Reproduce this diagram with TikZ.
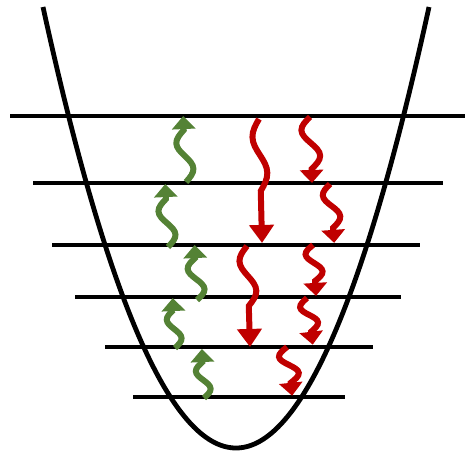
\documentclass[tikz,border=0pt]{standalone}
\usetikzlibrary{arrows.meta}
\definecolor{upgreen}{RGB}{84,130,53}
\definecolor{downred}{RGB}{192,0,0}
\tikzset{
  level/.style={line width=4.3pt},
  well/.style={line width=4.8pt},
  shorttip/.style={line width=6pt, -{Triangle[width=23pt,length=13pt]}},
  longtip/.style={line width=6pt, -{Triangle[width=24pt,length=18pt]}},
  gup/.style={shorttip, draw=upgreen},
  rdown/.style={shorttip, draw=downred},
  rlong/.style={longtip, draw=downred},
  pics/wave/.style n args={4}{code={
    \draw[#4] (0,0)
      .. controls +(0.525*#2,-0.334*#1) and +(0,0.36*#1) .. ++(#2,-#1)
      .. controls +(0,-0.36*#1) and +(0.525*#2,0.334*#1) .. ++(-#2,-#1)
      .. controls +(-0.525*#2,-0.334*#1) and +(0,0.36*#1) .. ++(-#2,-#1)
      .. controls +(0,-0.36*#1) and +(-0.525*#2,0.334*#1) .. ++(#2,-#1)
      -- ++(0,-#3);
  }}
}
\begin{document}
\begin{tikzpicture}[x=1pt,y=-1pt]
\useasboundingbox (0,0) rectangle (465,454);
% energy levels
\coordinate (l1a) at (10,116);  \coordinate (l1b) at (465,116);
\coordinate (l2a) at (33,183);  \coordinate (l2b) at (443,183);
\coordinate (l3a) at (52,245);  \coordinate (l3b) at (420,245);
\coordinate (l4a) at (75,297);  \coordinate (l4b) at (401,297);
\coordinate (l5a) at (105,347); \coordinate (l5b) at (373,347);
\coordinate (l6a) at (133,397); \coordinate (l6b) at (345,397);
\foreach \i in {1,...,6} \draw[level] (l\i a) -- (l\i b);
% potential well
\coordinate (wl) at (43,7);
\coordinate (wr) at (429,7);
\draw[well] (wl) .. controls (171.7,595) and (300.3,595) .. (wr);
% green (up) arrows
\coordinate (g1) at (186,182);
\coordinate (g2) at (168,247);
\coordinate (g3) at (197,300);
\coordinate (g4) at (175,348);
\coordinate (g5) at (204,398);
\pic[rotate=2.5] at (g1) {wave={13}{8}{14}{gup}};
\pic[rotate=2.5] at (g2) {wave={12}{8}{15}{gup}};
\pic[rotate=2.5] at (g3) {wave={10.5}{8}{13}{gup}};
\pic[rotate=2.5] at (g4) {wave={9.5}{7}{12}{gup}};
\pic[rotate=2.5] at (g5) {wave={9}{7}{13}{gup}};
% red (down) arrows
\coordinate (r1) at (259,119);
\coordinate (r2) at (310,117);
\coordinate (r3) at (330,184);
\coordinate (r4) at (247,246);
\coordinate (r5) at (313,245);
\coordinate (r6) at (307,298);
\coordinate (r7) at (287,347);
\pic[rotate=181.4] at (r1) {wave={18}{7}{52}{rlong}};
\pic[rotate=181.7] at (r4) {wave={15}{8}{41}{rlong}};
\pic[rotate=181.7] at (r2) {wave={13}{9}{14}{rdown}};
\pic[rotate=184] at (r3) {wave={11}{8}{15}{rdown}};
\pic[rotate=183.4] at (r5) {wave={9}{8}{15}{rdown}};
\pic[rotate=187] at (r6) {wave={8.5}{8}{13}{rdown}};
\pic[rotate=186] at (r7) {wave={9}{9}{13}{rdown}};
\end{tikzpicture}
\end{document}
